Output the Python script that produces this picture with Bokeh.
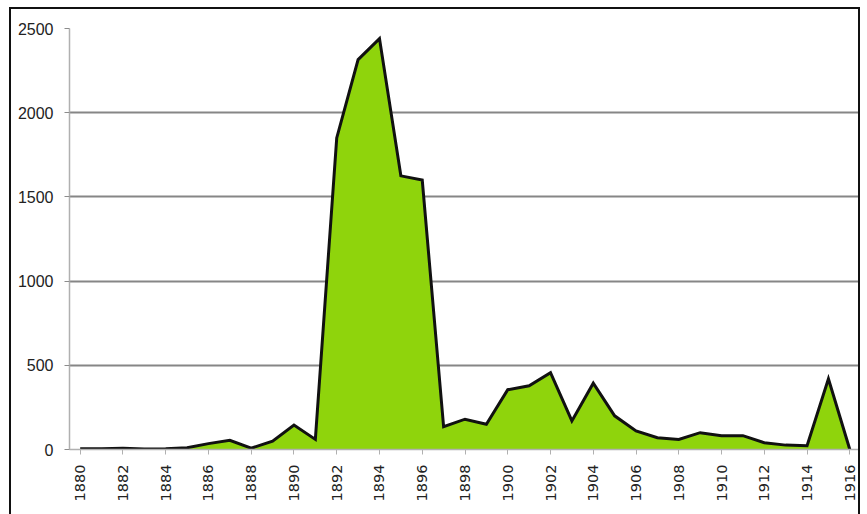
import math
from bokeh.plotting import figure
from bokeh.models import Range1d, FixedTicker
from bokeh.embed import file_html
from bokeh.resources import INLINE

years = list(range(1880, 1917))
values = [5, 5, 8, 3, 5, 10, 35, 55, 8, 50, 145, 60, 1850, 2315, 2440, 1625, 1600,
          135, 180, 150, 355, 378, 456, 170, 394, 200, 110, 70, 60, 100, 82, 82, 40,
          26, 22, 420, 0]
y_ticks = [0, 500, 1000, 1500, 2000, 2500]
x_ticks = list(range(1880, 1917, 2))

p = figure(width=851, height=516, output_backend="svg", toolbar_location=None,
           x_range=Range1d(1879.5, 1916.5), y_range=Range1d(0, 2500),
           min_border_left=58, min_border_right=2, min_border_top=19, min_border_bottom=76)
p.styles = {"border": "2px solid #111111", "margin-left": "9px", "margin-top": "7px",
            "background": "white"}
p.outline_line_color = None
p.background_fill_color = "white"
p.border_fill_color = "white"

p.varea(x=years, y1=[0] * len(years), y2=values, fill_color="#8FD40C")
p.line(x=years, y=values, line_color="#111111", line_width=3, line_join="miter")

p.xgrid.grid_line_color = None
p.ygrid.grid_line_color = "#868686"
p.ygrid.grid_line_width = 1.8
p.ygrid.ticker = FixedTicker(ticks=y_ticks)

p.yaxis.ticker = FixedTicker(ticks=y_ticks)
p.yaxis.axis_line_color = "#B0B0B0"
p.yaxis.axis_line_width = 1.5
p.yaxis.major_tick_line_color = "#8C8C8C"
p.yaxis.major_tick_out = 5
p.yaxis.major_tick_in = 0
p.yaxis.minor_tick_line_color = None
p.yaxis.major_label_text_font = "Liberation Sans"
p.yaxis.major_label_text_font_size = "16px"
p.yaxis.major_label_text_color = "#222222"
p.yaxis.major_label_standoff = 11

p.xaxis.ticker = FixedTicker(ticks=x_ticks)
p.xaxis.axis_line_color = "#B0B0B0"
p.xaxis.axis_line_width = 1.5
p.xaxis.major_tick_line_color = "#B0B0B0"
p.xaxis.major_tick_out = 5
p.xaxis.major_tick_in = 0
p.xaxis.minor_tick_line_color = None
p.xaxis.major_label_orientation = math.pi / 2
p.xaxis.major_label_text_font = "DejaVu Sans"
p.xaxis.major_label_text_font_size = "14.5px"
p.xaxis.major_label_text_color = "#222222"
p.xaxis.major_label_standoff = 10

open("out.html", "w").write(file_html(p, INLINE))
